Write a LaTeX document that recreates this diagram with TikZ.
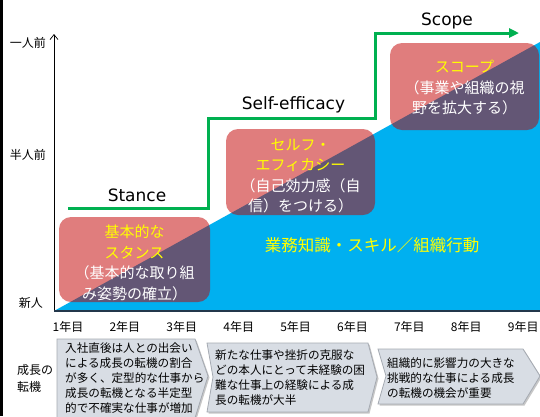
\documentclass[tikz,border=0pt]{standalone}
\usepackage{fontspec}
\setmainfont{DejaVu Sans}
\newfontfamily\jp{Noto Sans CJK JP}
\usetikzlibrary{arrows.meta}
\definecolor{skyb}{RGB}{0,176,240}
\definecolor{boxred}{RGB}{196,0,0}
\definecolor{stepg}{RGB}{0,176,80}
\definecolor{ylw}{RGB}{255,255,0}
\definecolor{chevfill}{RGB}{216,221,228}
\definecolor{chevline}{RGB}{165,170,178}
\definecolor{axisdark}{RGB}{35,55,75}
\begin{document}
\begin{tikzpicture}[x=1pt,y=-1pt,
  boxstyle/.style={fill=boxred, fill opacity=0.51, rounded corners=12pt, inner sep=0pt},
  boxtext/.style={align=center, inner sep=0pt, text=white, font=\jp\fontsize{15}{20.5}\selectfont},
  steplabel/.style={inner sep=0pt, font=\fontsize{17}{20}\selectfont},
  axlabel/.style={inner sep=0pt, font=\jp\fontsize{12}{14}\selectfont},
  chev/.style={fill=chevfill, draw=chevline, line width=0.8pt},
  chevshadow/.style={fill=black!22},
  chevtext/.style={align=left, inner sep=0pt, anchor=west, font=\jp\fontsize{11.6}{15}\selectfont},
  stepline/.style={stepg, line width=3pt, -{Triangle[length=10pt,width=9pt]}}
]
\useasboundingbox (0,0) rectangle (540,416);
\fill[white] (0,0) rectangle (540,416);
\fill[black] (0,0) rectangle (2.5,416);

% blue area
\fill[skyb] (54,311) -- (540,311) -- (540,42) -- cycle;
\node[text=ylw, inner sep=0pt, font=\jp\fontsize{16.5}{20}\selectfont] (area) at (372,245) {業務知識・スキル／組織行動};

% axes
\coordinate (o) at (54,311);
\coordinate (ytop) at (54,34);
\coordinate (xend) at (540,311);
\draw[line width=0.7pt, -{Straight Barb[length=5pt,width=8pt]}] (o) -- (ytop);
\draw[axisdark, line width=1.6pt] (o) -- (xend);

% boxes
\node[boxstyle, minimum width=151pt, minimum height=85pt] (b1) at (134.5,259.5) {};
\node[boxstyle, minimum width=149pt, minimum height=86pt] (b2) at (300.5,172) {};
\node[boxstyle, minimum width=149pt, minimum height=87pt] (b3) at (464.5,86.5) {};
\node[boxtext] (t1) at (134.5,263) {\textcolor{ylw}{基本的な}\\\textcolor{ylw}{スタンス}\\（基本的な取り組\\み姿勢の確立）};
\node[boxtext] (t2) at (300.5,176) {\textcolor{ylw}{セルフ・}\\\textcolor{ylw}{エフィカシー}\\（自己効力感（自\\信）をつける）};
\node[boxtext] (t3) at (464.5,87.5) {\textcolor{ylw}{スコープ}\\（事業や組織の視\\野を拡大する）};

% green step line
\coordinate (g0) at (68,208);
\coordinate (g1) at (208,118);
\coordinate (g2) at (375,33);
\coordinate (g3) at (519,33);
\draw[stepline] (g0) -| (g1) -| (g2) -- (g3);
\node[steplabel] (l1) at (137,195) {Stance};
\node[steplabel] (l2) at (293.5,105) {Self-efficacy};
\node[steplabel] (l3) at (447,21) {Scope};

% y labels
\node[axlabel, anchor=east] (y1) at (46,43) {一人前};
\node[axlabel, anchor=east] (y2) at (46,155) {半人前};
\node[axlabel, anchor=east] (y3) at (43,303) {新人};

% x labels
\foreach \i in {1,...,9}{
  \node[axlabel] (x\i) at ({68+56.9*(\i-1)},327) {\i 年目};
}

% bottom label
\node[axlabel, align=left, anchor=west, font=\jp\fontsize{12}{17}\selectfont] (tl) at (17,378) {成長の\\転機};

% chevrons
\fill[chevshadow] (58.5,340.5) -- (196.5,340.5) -- (209.5,377.5) -- (196.5,419) -- (58.5,419) -- cycle;
\filldraw[chev] (57,339) -- (195,339) -- (208,376) -- (195,418) -- (57,418) -- cycle;
\fill[chevshadow] (208.5,344.5) -- (369.5,344.5) -- (378.5,378.5) -- (369.5,413.5) -- (208.5,413.5) -- (214.5,378.5) -- cycle;
\filldraw[chev] (207,343) -- (368,343) -- (377,377) -- (368,412) -- (207,412) -- (213,377) -- cycle;
\fill[chevshadow] (379.5,350.5) -- (524.5,350.5) -- (541.5,377.5) -- (524.5,405.5) -- (379.5,405.5) -- (387.5,377.5) -- cycle;
\filldraw[chev] (378,349) -- (523,349) -- (540,376) -- (523,404) -- (378,404) -- (386,376) -- cycle;

\node[chevtext] (c1) at (65,378) {入社直後は人との出会い\\による成長の転機の割合\\が多く、定型的な仕事から\\成長の転機となる半定型\\的で不確実な仕事が増加};
\node[chevtext] (c2) at (215,377.5) {新たな仕事や挫折の克服な\\どの本人にとって未経験の困\\難な仕事上の経験による成\\長の転機が大半};
\node[chevtext] (c3) at (387,378) {組織的に影響力の大きな\\挑戦的な仕事による成長\\の転機の機会が重要};
\end{tikzpicture}
\end{document}
